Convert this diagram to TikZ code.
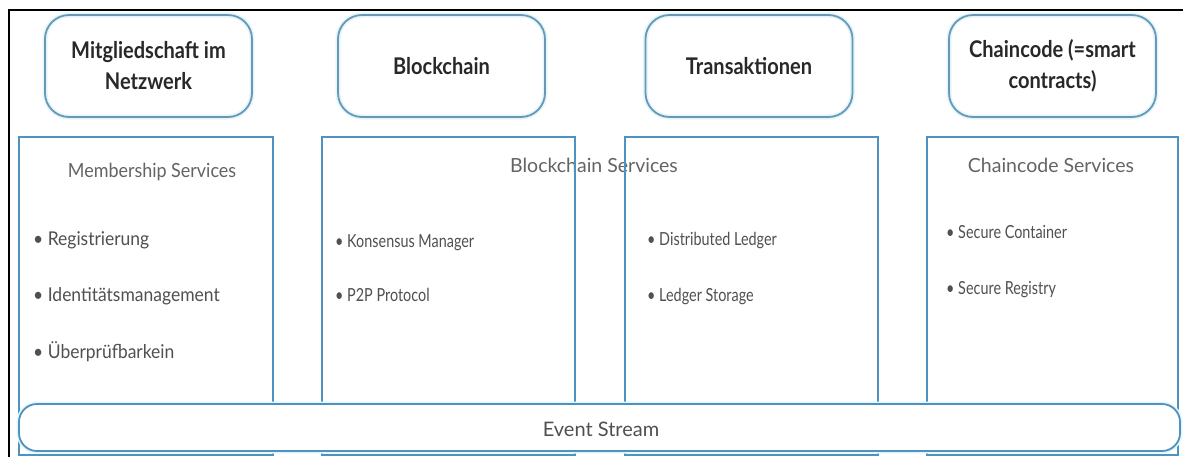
\documentclass[tikz,border=0pt]{standalone}
\usepackage{fontspec}
\setmainfont{Lato}
\newfontfamily\titlefont{Lato}[FakeStretch=0.87]
\newfontfamily\narrowfont{Lato}[FakeStretch=0.8]
\newfontfamily\slimfont{Lato}[FakeStretch=0.92]
\definecolor{tbord}{RGB}{105,152,182}
\definecolor{bord}{RGB}{78,146,192}
\definecolor{glow}{RGB}{228,246,252}
\definecolor{titletext}{RGB}{40,40,40}
\definecolor{headtext}{RGB}{100,100,100}
\definecolor{itemtext}{RGB}{80,80,80}
\begin{document}
\begin{tikzpicture}[x=1pt,y=-1pt,
  topbox/.style={draw=tbord, line width=1.8pt, rounded corners=24pt,
    minimum width=207pt, minimum height=102pt, inner sep=0pt, align=center,
    font=\titlefont\bfseries\fontsize{23}{31}\selectfont, text=titletext,
    preaction={draw=glow, line width=5pt}},
  svcbox/.style={draw=bord, line width=1.8pt, minimum height=318pt, inner sep=0pt},
  svchead/.style={anchor=base, font=\fontsize{19.5}{22}\selectfont, text=headtext, inner sep=0pt},
  item/.style={anchor=base west, font=\slimfont\fontsize{19}{22}\selectfont, text=itemtext, inner sep=0pt},
  itemn/.style={anchor=base west, font=\narrowfont\fontsize{18}{22}\selectfont, text=itemtext, inner sep=0pt},
  streambox/.style={draw=bord, line width=1.8pt, rounded corners=18pt, fill=white,
    minimum width=1161pt, minimum height=47pt, inner sep=0pt,
    preaction={draw=glow, line width=5pt}},
  frameline/.style={draw=black, line width=2.2pt}
]
\useasboundingbox (0,0) rectangle (1183,456);
\fill[white] (0,0) rectangle (1183,456);

% outer frame (cut at right and bottom)
\coordinate (fbl) at (9,460);
\coordinate (ftl) at (9,10);
\coordinate (ftr) at (1190,10);
\draw[frameline] (fbl) -- (ftl) -- (ftr);

% top rounded boxes
\node[topbox] (t1) at (148.5,66) {Mitgliedschaft im\\Netzwerk};
\node[topbox] (t2) at (441.5,66) {Blockchain};
\node[topbox] (t3) at (749,66) {Transaktionen};
\node[topbox] (t4) at (1052.5,66) {Chaincode (=smart\\contracts)};

% service headers and items (drawn before box borders)
\node[svchead, font=\slimfont\fontsize{19.5}{22}\selectfont] (h1) at (152,177) {Membership Services};
\node[svchead] (h2) at (594,172) {Blockchain Services};
\node[svchead] (h4) at (1051,172) {Chaincode Services};

\node[item] (i11) at (33,245) {• Registrierung};
\node[item] (i12) at (33,301) {• Identitätsmanagement};
\node[item] (i13) at (33,358) {• Überprüfbarkein};

\node[itemn] (i21) at (335,247) {• Konsensus Manager};
\node[itemn] (i22) at (335,301) {• P2P Protocol};

\node[itemn] (i31) at (647,245) {• Distributed Ledger};
\node[itemn] (i32) at (647,301) {• Ledger Storage};

\node[itemn] (i41) at (946,238) {• Secure Container};
\node[itemn] (i42) at (946,294) {• Secure Registry};

% service boxes
\node[svcbox, minimum width=254pt] (s1) at (146,296) {};
\node[svcbox, minimum width=253pt] (s2) at (448.5,296) {};
\node[svcbox, minimum width=253pt] (s3) at (751.5,296) {};
\node[svcbox, minimum width=251pt] (s4) at (1052.5,296) {};

% event stream
\node[streambox] (es) at (599.5,427.5) {};
\node[font=\fontsize{20}{22}\selectfont, text=itemtext, anchor=base, inner sep=0pt] (esl) at (601,436) {Event Stream};
\end{tikzpicture}
\end{document}
